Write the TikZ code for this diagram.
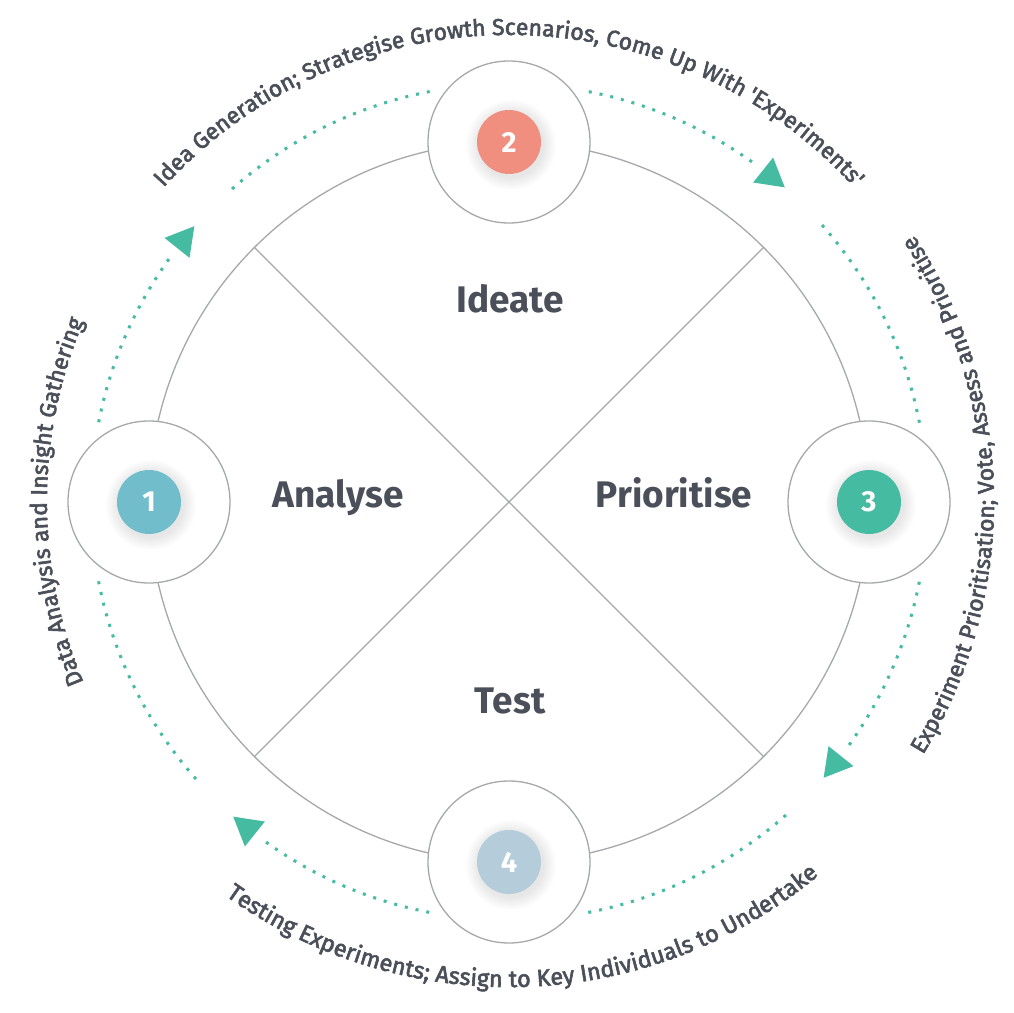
\documentclass[tikz,border=0pt]{standalone}
\usepackage{fontspec}
\setmainfont{Fira Sans}
\newfontfamily\arcfont{Fira Sans}[FakeBold=2.5]
\usetikzlibrary{decorations.text}
\definecolor{cone}{HTML}{72BDCB}
\definecolor{ctwo}{HTML}{F08E80}
\definecolor{cthree}{HTML}{45BBA2}
\definecolor{cfour}{HTML}{B5CDDB}
\definecolor{dotgreen}{HTML}{45BBA2}
\definecolor{linegray}{HTML}{A5A9AC}
\definecolor{txtdark}{HTML}{4A4F59}
\begin{document}
\begin{tikzpicture}[x=1pt,y=1pt]
\tikzset{
  ring/.style={circle, draw=linegray, line width=1.3pt, fill=white, minimum size=162pt, inner sep=0pt},
  numdisc/.style={circle, minimum size=64pt, inner sep=0pt, text=white, font=\bfseries\fontsize{29}{29}\selectfont},
  lab/.style={anchor=base, text=txtdark, font=\bfseries\fontsize{37}{37}\selectfont, inner sep=0pt},
  dotarc/.style={draw=dotgreen, line width=3pt, dash pattern=on 3pt off 8pt},
  arctext/.style={decorate, decoration={text along path, text align=center, text color=txtdark}},
}
\useasboundingbox[fill=white] (-509,-510) rectangle (505,502);
% main circle and cross
\node[circle, draw=linegray, line width=1.3pt, minimum size=720pt, inner sep=0pt, outer sep=0pt] (main) at (0,0) {};
\draw[linegray, line width=1.3pt] (main.45) -- (main.225);
\draw[linegray, line width=1.3pt] (main.135) -- (main.-45);
% dotted arcs and arrowheads
\foreach \q in {135,45,-45,-135}{
  \draw[dotarc] ({\q+34}:418) arc[start angle={\q+34}, end angle={\q+8.5}, radius=418];
  \draw[dotarc] ({\q-3.5}:418) arc[start angle={\q-3.5}, end angle={\q-35}, radius=418];
  \begin{scope}[shift={({\q+6.3}:418)}, rotate={\q+6.3-90}]
    \fill[dotgreen] (18.5,0) -- (-9.25,16) -- (-9.25,-16) -- cycle;
  \end{scope}
}
% rings
\node[ring] (r1) at (main.180) {};
\node[ring] (r2) at (main.90) {};
\node[ring] (r3) at (main.0) {};
\node[ring] (r4) at (main.270) {};
% shadows
\foreach \r in {r1,r2,r3,r4}{
  \foreach \k in {1,...,12}{
    \fill[black, opacity=0.008] ([shift={(2,-3)}]\r.center) circle[radius={32+\k*1.1}];
  }
}
\node[numdisc, fill=cone] (n1) at (r1) {1};
\node[numdisc, fill=ctwo] (n2) at (r2) {2};
\node[numdisc, fill=cthree] (n3) at (r3) {3};
\node[numdisc, fill=cfour] (n4) at (r4) {4};
% quadrant labels
\node[lab] (ideate) at (1,189) {Ideate};
\node[lab] (analyse) at (-171,-5) {Analyse};
\node[lab] (prior) at (165,-5) {Prioritise};
\node[lab] (test) at (1,-211) {Test};
% arc texts
\path[arctext, decoration={text={|\arcfont\fontsize{23}{23}\selectfont|Idea Generation; Strategise Growth Scenarios, Come Up With 'Experiments'}}]
  (150:467) arc[start angle=150, end angle=30, radius=467];
\path[arctext, decoration={text={|\arcfont\fontsize{23}{23}\selectfont|Data Analysis and Insight Gathering}}]
  (240:462) arc[start angle=240, end angle=120, radius=462];
\path[arctext, decoration={text={|\arcfont\fontsize{23}{23}\selectfont|Experiment Prioritisation; Vote, Assess and Prioritise}}]
  (-59:485) arc[start angle=-59, end angle=61, radius=485];
\path[arctext, decoration={text={|\arcfont\fontsize{23.5}{23.5}\selectfont|Testing Experiments; Assign to Key Individuals to Undertake}}]
  (-148:485) arc[start angle=-148, end angle=-28, radius=485];
\end{tikzpicture}
\end{document}
